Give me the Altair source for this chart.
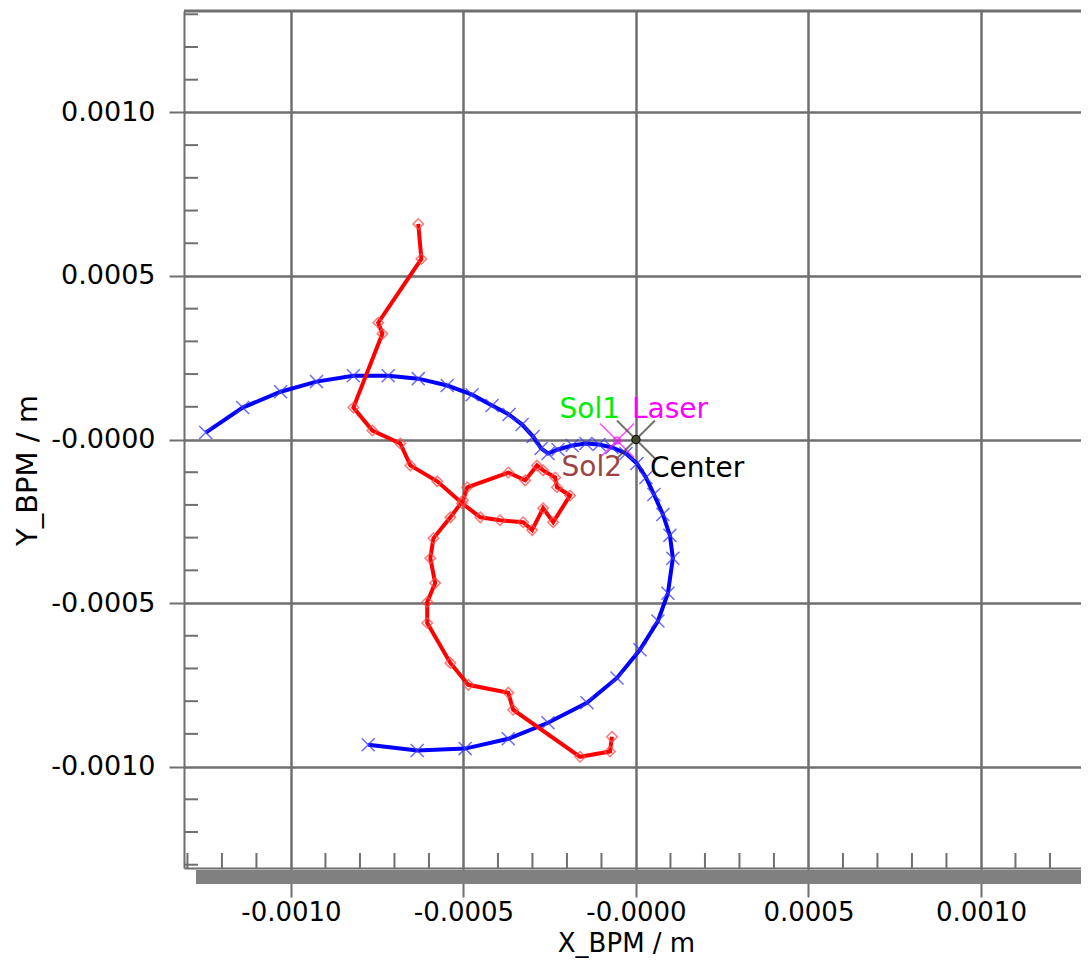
import altair as alt
import pandas as pd

# ---- data ----
blue_x = [-0.001247, -0.001140, -0.001030, -0.000926, -0.000819, -0.000718, -0.000631,
          -0.000547, -0.000475, -0.000417, -0.000368, -0.000330, -0.000298, -0.000275,
          -0.000255, -0.000226, -0.000185, -0.000145, -0.000107, -0.0000695, -0.0000289,
          0.0000029, 0.0000289, 0.0000521, 0.0000781, 0.0000984, 0.000107, 0.0000926,
          0.0000637, 0.0000116, -0.0000550, -0.000142, -0.000255, -0.000370, -0.000495,
          -0.000634, -0.000776]
blue_y = [0.0000213, 0.0000976, 0.000146, 0.000177, 0.000195, 0.000195, 0.000186,
          0.000165, 0.000137, 0.000104, 0.0000762, 0.0000457, 0.0000091, -0.0000274,
          -0.0000427, -0.0000305, -0.0000183, -0.0000122, -0.0000152, -0.0000244, -0.0000427,
          -0.0000732, -0.000116, -0.000168, -0.000229, -0.000293, -0.000363, -0.000470,
          -0.000555, -0.000643, -0.000729, -0.000805, -0.000866, -0.000915, -0.000945,
          -0.000951, -0.000933]

red_x = [-0.000631, -0.000622, -0.000747, -0.000735, -0.000819, -0.000764, -0.000683,
         -0.000654, -0.000576, -0.000504, -0.000451, -0.000394, -0.000327, -0.000301,
         -0.000269, -0.000240, -0.000191, -0.000229, -0.000234, -0.000269, -0.000287,
         -0.000321, -0.000370, -0.000489, -0.000501, -0.000538, -0.000587, -0.000596,
         -0.000582, -0.000605, -0.000605, -0.000538, -0.000486, -0.000370, -0.000356,
         -0.000162, -0.0000752, -0.0000695]
red_y = [0.000659, 0.000552, 0.000357, 0.000323, 0.0000976, 0.0000274, -0.0000122,
         -0.0000793, -0.000128, -0.000195, -0.000238, -0.000247, -0.000253, -0.000277,
         -0.000210, -0.000253, -0.000171, -0.000146, -0.000116, -0.0000945, -0.0000793,
         -0.000125, -0.000101, -0.000146, -0.000186, -0.000238, -0.000302, -0.000363,
         -0.000439, -0.000497, -0.000561, -0.000683, -0.000750, -0.000774, -0.000826,
         -0.000970, -0.000954, -0.000909]

major_ticks = [-0.0010, -0.0005, 0.0, 0.0005, 0.0010]
minor_ticks = [-0.0013, -0.0012, -0.0011, -0.0009, -0.0008, -0.0007, -0.0006,
               -0.0004, -0.0003, -0.0002, -0.0001, 0.0001, 0.0002, 0.0003, 0.0004,
               0.0006, 0.0007, 0.0008, 0.0009, 0.0011, 0.0012, 0.0013]

center_x, center_y = [0.0], [0.0]
laser_x, laser_y = [-0.000055], [-0.000003]

label_names = ["Sol1", "Laser", "Sol2", "Center"]
label_colors = ["#00ee00", "#ff00ff", "#9a4444", "#000000"]

# ---- layout / style ----
W, H = 897, 857
XDOM = [-0.00131, 0.00129]
YDOM = [-0.00131, 0.00131]
GRID = "#6f6f6f"
FONT = "DejaVu Sans"
XPATH = "M-1,-1L1,1M-1,1L1,-1"
fmt = "(datum.value <= 0 ? '-' : '') + format(abs(datum.value), '.4f')"

xs = alt.Scale(domain=XDOM, nice=False, zero=False)
ys = alt.Scale(domain=YDOM, nice=False, zero=False)

xaxis = alt.Axis(values=major_ticks, grid=True, gridColor=GRID, gridWidth=2.5,
                 tickSize=29, tickColor=GRID, tickWidth=2, domainColor=GRID, domainWidth=2,
                 labelExpr=fmt, labelFont=FONT, labelFontSize=26, labelColor="black",
                 labelPadding=2, labelFlush=False, labelOverlap=False,
                 title="X_BPM / m", titleFont=FONT, titleFontSize=26, titleFontWeight="normal",
                 titleColor="black", titleX=442, titleY=83, titleBaseline="alphabetic",
                 titleAlign="center")
yaxis = alt.Axis(values=major_ticks, grid=True, gridColor=GRID, gridWidth=2.5,
                 tickSize=15, tickColor=GRID, tickWidth=2, domainColor=GRID, domainWidth=2,
                 labelExpr=fmt, labelFont=FONT, labelFontSize=27, labelColor="black",
                 labelPadding=14, labelFlush=False, labelOverlap=False,
                 title="Y_BPM / m", titleFont=FONT, titleFontSize=29, titleFontWeight="normal",
                 titleColor="black", titleX=-148, titleY=459, titleBaseline="alphabetic",
                 titleAlign="center", titleAngle=270)


def X(field):
    return alt.X(f"{field}:Q", scale=xs, axis=xaxis)


def Y(field):
    return alt.Y(f"{field}:Q", scale=ys, axis=yaxis)


blue = pd.DataFrame({"x": blue_x, "y": blue_y, "i": range(len(blue_x))})
red = pd.DataFrame({"x": red_x, "y": red_y, "i": range(len(red_x))})
minor = pd.DataFrame({"v": minor_ticks})
center = pd.DataFrame({"x": center_x, "y": center_y})
laser = pd.DataFrame({"x": laser_x, "y": laser_y})

bar = alt.Chart(center).mark_rect(color="#808080").encode(
    x=alt.value(12), x2=alt.value(W), y=alt.value(H + 2), y2=alt.value(H + 16))
top_border = alt.Chart(center).mark_rule(color=GRID, strokeWidth=3).encode(
    x=alt.value(0), x2=alt.value(W), y=alt.value(0))

minor_y = alt.Chart(minor).mark_rule(color=GRID, strokeWidth=2).encode(
    y=Y("v"), x=alt.value(0), x2=alt.value(14))
minor_x = alt.Chart(minor).mark_rule(color=GRID, strokeWidth=2).encode(
    x=X("v"), y=alt.value(H - 15), y2=alt.value(H))

blue_line = alt.Chart(blue).mark_line(color="#0000ff", strokeWidth=4).encode(
    x=X("x"), y=Y("y"), order="i:Q")
blue_pts = alt.Chart(blue).mark_point(shape=XPATH, size=170, filled=False, color="#3a3aff",
                                      strokeWidth=1.5, opacity=0.75).encode(x=X("x"), y=Y("y"))
red_line = alt.Chart(red).mark_line(color="#ff0000", strokeWidth=4).encode(
    x=X("x"), y=Y("y"), order="i:Q")
red_pts = alt.Chart(red).mark_point(shape="diamond", size=110, filled=False, color="#ff4a4a",
                                    strokeWidth=1.5, opacity=0.75).encode(x=X("x"), y=Y("y"))

laser_x_mark = alt.Chart(laser).mark_point(shape=XPATH, size=1156, filled=False, color="#ff00ff",
                                           strokeWidth=1.5).encode(x=X("x"), y=Y("y"))
laser_dot = alt.Chart(laser).mark_point(shape="circle", size=45, filled=False, color="#ff00ff",
                                        strokeWidth=1.5).encode(x=X("x"), y=Y("y"))
center_x_mark = alt.Chart(center).mark_point(shape=XPATH, size=1444, filled=False, color="#3a3a30",
                                             strokeWidth=2).encode(x=X("x"), y=Y("y"))
center_dot = alt.Chart(center).mark_point(shape="circle", size=70, filled=True, fill="#3d4a2a",
                                          stroke="#000000", strokeWidth=1, opacity=1).encode(
    x=X("x"), y=Y("y"))

offsets = [(3, -30, "right", laser), (15, -30, "left", laser),
           (5, 28, "right", laser), (14, 29, "left", center)]
texts = []
for name, col, (dx, dy, al, src) in zip(label_names, label_colors, offsets):
    d = src.assign(label=name)
    texts.append(alt.Chart(d).mark_text(dx=dx, dy=dy, align=al, baseline="middle", font=FONT,
                                        fontSize=28, color=col).encode(
        x=X("x"), y=Y("y"), text="label:N"))

chart = alt.layer(
    bar, top_border, minor_y, minor_x, blue_line, blue_pts, red_line, red_pts,
    laser_x_mark, laser_dot, center_x_mark, center_dot, *texts
).properties(
    width=W, height=H,
    autosize=alt.AutoSizeParams(type="none"),
    padding={"left": 176, "top": 3, "right": 0, "bottom": 91},
    background="white",
).configure_view(strokeWidth=0)

chart.save("out.html", embed_options={"renderer": "svg", "actions": False})
